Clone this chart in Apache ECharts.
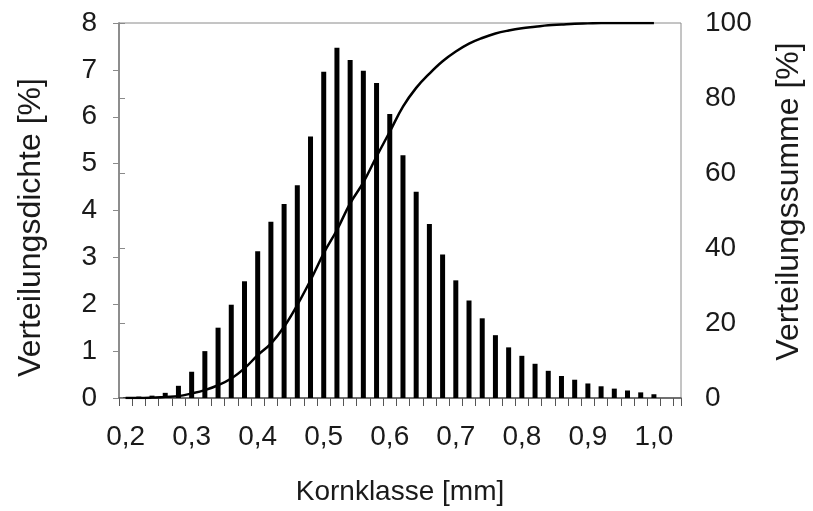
<!DOCTYPE html>
<html>
<head>
<meta charset="utf-8">
<script src="https://cdn.jsdelivr.net/npm/echarts@6/dist/echarts.min.js"></script>
<style>
  html, body { margin: 0; padding: 0; background: #fff; }
  #chart { width: 813px; height: 511px; }
</style>
</head>
<body>
<div id="chart"></div>
<script>
// Kornklassen (Klassenmitte) in mm
const kornklasse = [
  0.20, 0.22, 0.24, 0.26, 0.28, 0.30, 0.32, 0.34, 0.36, 0.38,
  0.40, 0.42, 0.44, 0.46, 0.48, 0.50, 0.52, 0.54, 0.56, 0.58,
  0.60, 0.62, 0.64, 0.66, 0.68, 0.70, 0.72, 0.74, 0.76, 0.78,
  0.80, 0.82, 0.84, 0.86, 0.88, 0.90, 0.92, 0.94, 0.96, 0.98,
  1.00
]
// Verteilungsdichte [%]
const dichte = [
  0.01, 0.03, 0.05, 0.11, 0.26, 0.56, 1.00, 1.50, 1.99, 2.49,
  3.13, 3.76, 4.14, 4.54, 5.58, 6.96, 7.47, 7.21, 6.98, 6.72,
  6.06, 5.18, 4.40, 3.71, 3.06, 2.51, 2.08, 1.70, 1.34, 1.08,
  0.90, 0.73, 0.58, 0.47, 0.39, 0.31, 0.25, 0.20, 0.16, 0.12,
  0.08
]
// Verteilungssumme [%]
const summe = [
  0.0, 0.0, 0.1, 0.3, 0.5, 1.2, 2.1, 3.4, 5.2, 7.9,
  11.4, 14.5, 19.0, 24.8, 31.4, 38.6, 44.8, 51.9, 57.5, 64.4,
  71.0, 77.7, 82.7, 86.5, 89.8, 92.4, 94.5, 96.0, 97.2, 98.0,
  98.6, 99.0, 99.4, 99.6, 99.8, 99.9, 100, 100, 100, 100,
  100
]
const xTickLabels = ['0,2', '0,3', '0,4', '0,5', '0,6', '0,7', '0,8', '0,9', '1,0']

// x in Klassen-Einheiten: Klasse i liegt mittig zwischen Strich i und i+1
const xMax = 42.55
const labelStep = 5

const chart = echarts.init(document.getElementById('chart'))
const fontFamily = 'Liberation Sans, Arial, sans-serif'
const textColor = '#1a1a1a'
const axisColor = '#8a8a8a'

chart.setOption({
  animation: false,
  textStyle: { fontFamily: fontFamily },
  grid: {
    left: 119,
    right: 130,
    top: 23,
    bottom: 113,
    show: true,
    borderColor: axisColor,
    borderWidth: 1
  },
  xAxis: [
    {
      type: 'value',
      min: 0,
      max: xMax,
      interval: 1,
      position: 'bottom',
      splitLine: { show: false },
      axisLine: { show: true, onZero: false, lineStyle: { color: '#555', width: 1.5 } },
      axisTick: { show: true, length: 8, lineStyle: { color: '#555' } },
      axisLabel: { show: false },
      name: 'Kornklasse [mm]',
      nameLocation: 'middle',
      nameGap: 80,
      nameTextStyle: { fontSize: 28, color: textColor, fontFamily: fontFamily }
    },
    {
      type: 'value',
      min: 0,
      max: xMax,
      interval: 0.5,
      position: 'bottom',
      splitLine: { show: false },
      axisLine: { show: false },
      axisTick: { show: false },
      axisLabel: {
        show: true,
        margin: 25,
        fontSize: 28,
        color: textColor,
        fontFamily: fontFamily,
        formatter: function (v) {
          const k = v - 0.5
          if (k >= 0 && k % labelStep === 0) {
            return xTickLabels[k / labelStep] || ''
          }
          return ''
        }
      }
    }
  ],
  yAxis: [
    {
      type: 'value',
      min: 0,
      max: 8,
      interval: 1,
      position: 'left',
      splitLine: { show: false },
      axisLine: { show: true, lineStyle: { color: axisColor, width: 1.5 } },
      axisTick: { show: true, length: 6, lineStyle: { color: axisColor } },
      axisLabel: { margin: 22, fontSize: 28, color: textColor, fontFamily: fontFamily },
      name: 'Verteilungsdichte [%]',
      nameLocation: 'middle',
      nameGap: 72,
      nameTextStyle: { fontSize: 32, color: textColor, fontFamily: fontFamily, padding: [0, 34, 0, 0] }
    },
    {
      type: 'value',
      min: 0,
      max: 100,
      interval: 20,
      position: 'right',
      splitLine: { show: false },
      axisLine: { show: true, lineStyle: { color: axisColor, width: 1.5 } },
      axisTick: { show: true, length: 6, lineStyle: { color: axisColor } },
      axisLabel: { margin: 24, fontSize: 28, color: textColor, fontFamily: fontFamily },
      name: 'Verteilungssumme [%]',
      nameLocation: 'middle',
      nameGap: 92,
      nameRotate: 90,
      nameTextStyle: { fontSize: 32, color: textColor, fontFamily: fontFamily, padding: [0, 0, 0, 18] }
    }
  ],
  series: [
    {
      name: 'Verteilungsdichte',
      type: 'bar',
      xAxisIndex: 0,
      yAxisIndex: 0,
      barWidth: 5,
      itemStyle: { color: '#000' },
      data: kornklasse.map(function (k, i) { return [i + 0.5, dichte[i]] })
    },
    {
      name: 'Verteilungssumme',
      type: 'line',
      xAxisIndex: 0,
      yAxisIndex: 1,
      smooth: 0.4,
      showSymbol: false,
      symbol: 'none',
      lineStyle: { color: '#000', width: 2.5 },
      data: kornklasse.map(function (k, i) { return [i + 0.5, summe[i]] })
    }
  ]
})
</script>
</body>
</html>
